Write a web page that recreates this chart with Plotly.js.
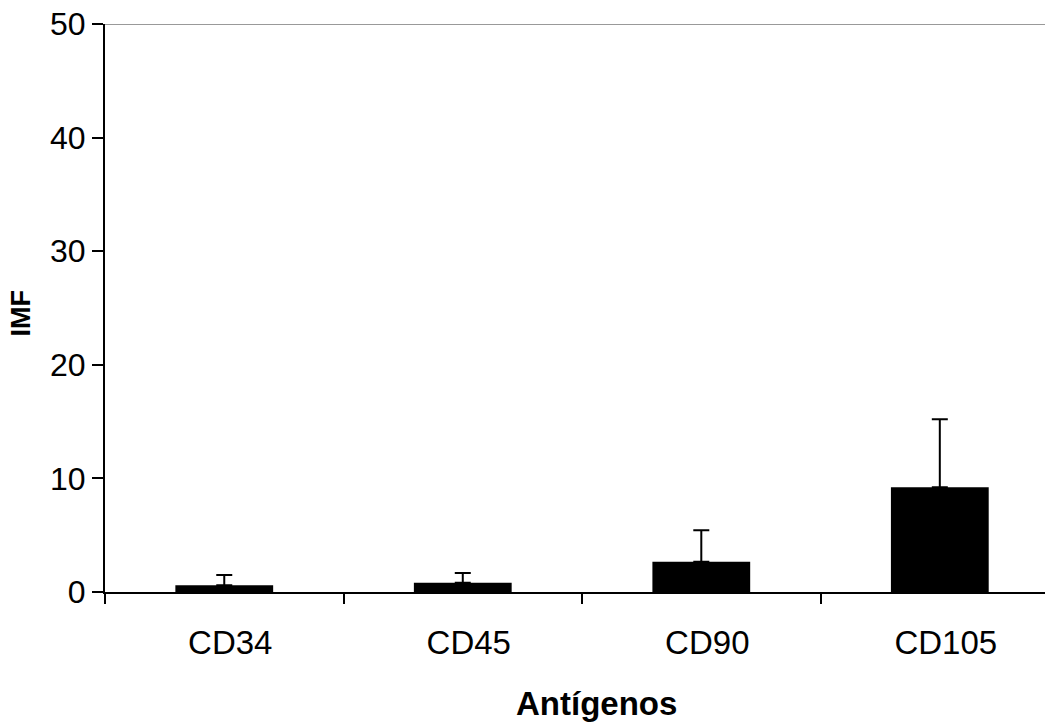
<!DOCTYPE html>
<html>
<head>
<meta charset="utf-8">
<script src="https://cdn.plot.ly/plotly-3.0.1.min.js"></script>
<style>html,body{margin:0;padding:0;background:#fff;overflow:hidden;}</style>
</head>
<body>
<div id="chart" style="width:1045px;height:725px;"></div>
<script>
var categories = ["CD34", "CD45", "CD90", "CD105"];
var imfValues = [0.59, 0.82, 2.67, 9.22];
var errorPlus = [0.91, 0.85, 2.76, 5.98];
var errorMinus = [0, 0, 0, 0];
var yTickValues = [0, 10, 20, 30, 40, 50];
var xTitle = "Antígenos";
var yTitle = "IMF";

var trace = {
  type: "bar",
  x: categories,
  y: imfValues,
  width: 0.41,
  marker: {color: "#000000", line: {width: 0}},
  error_y: {
    type: "data",
    symmetric: false,
    array: errorPlus,
    arrayminus: errorMinus,
    color: "#000000",
    thickness: 2,
    width: 8
  },
  hoverinfo: "x+y"
};

var font = "Liberation Sans, Arial, Helvetica, sans-serif";

var layout = {
  width: 1045,
  height: 725,
  margin: {l: 105, r: 0, t: 24, b: 133, pad: 0},
  paper_bgcolor: "#ffffff",
  plot_bgcolor: "#ffffff",
  showlegend: false,
  font: {family: font, color: "#000000"},
  xaxis: {
    type: "category",
    range: [-0.5, 3.441],
    showline: true,
    linecolor: "#000000",
    linewidth: 2,
    ticks: "outside",
    tickson: "boundaries",
    ticklen: 10,
    tickwidth: 2,
    tickcolor: "#000000",
    ticklabelshift: 6,
    ticklabelstandoff: 20,
    tickfont: {family: font, size: 33, color: "#000000"},
    showgrid: false,
    zeroline: false,
    fixedrange: true
  },
  yaxis: {
    range: [0, 50],
    tickmode: "array",
    tickvals: yTickValues,
    ticktext: yTickValues.map(String),
    showline: true,
    linecolor: "#000000",
    linewidth: 2,
    ticks: "outside",
    ticklen: 11,
    tickwidth: 2,
    tickcolor: "#000000",
    tickfont: {family: font, size: 32, color: "#000000"},
    showgrid: false,
    zeroline: false,
    fixedrange: true
  },
  shapes: [{
    type: "line",
    xref: "paper", yref: "y",
    x0: 0, x1: 1, y0: 50, y1: 50,
    line: {color: "#999999", width: 2}
  }],
  annotations: [
    {
      text: xTitle,
      xref: "paper", yref: "paper",
      x: 0.5234, y: -0.1963,
      xanchor: "center", yanchor: "middle",
      showarrow: false,
      font: {family: font, size: 33, color: "#000000", weight: "bold"}
    },
    {
      text: yTitle,
      xref: "paper", yref: "paper",
      x: -0.089, y: 0.491,
      xanchor: "center", yanchor: "middle",
      textangle: -90,
      showarrow: false,
      font: {family: font, size: 27, color: "#000000", weight: "bold"}
    }
  ]
};

Plotly.newPlot("chart", [trace], layout, {displayModeBar: false, staticPlot: true});
</script>
</body>
</html>
